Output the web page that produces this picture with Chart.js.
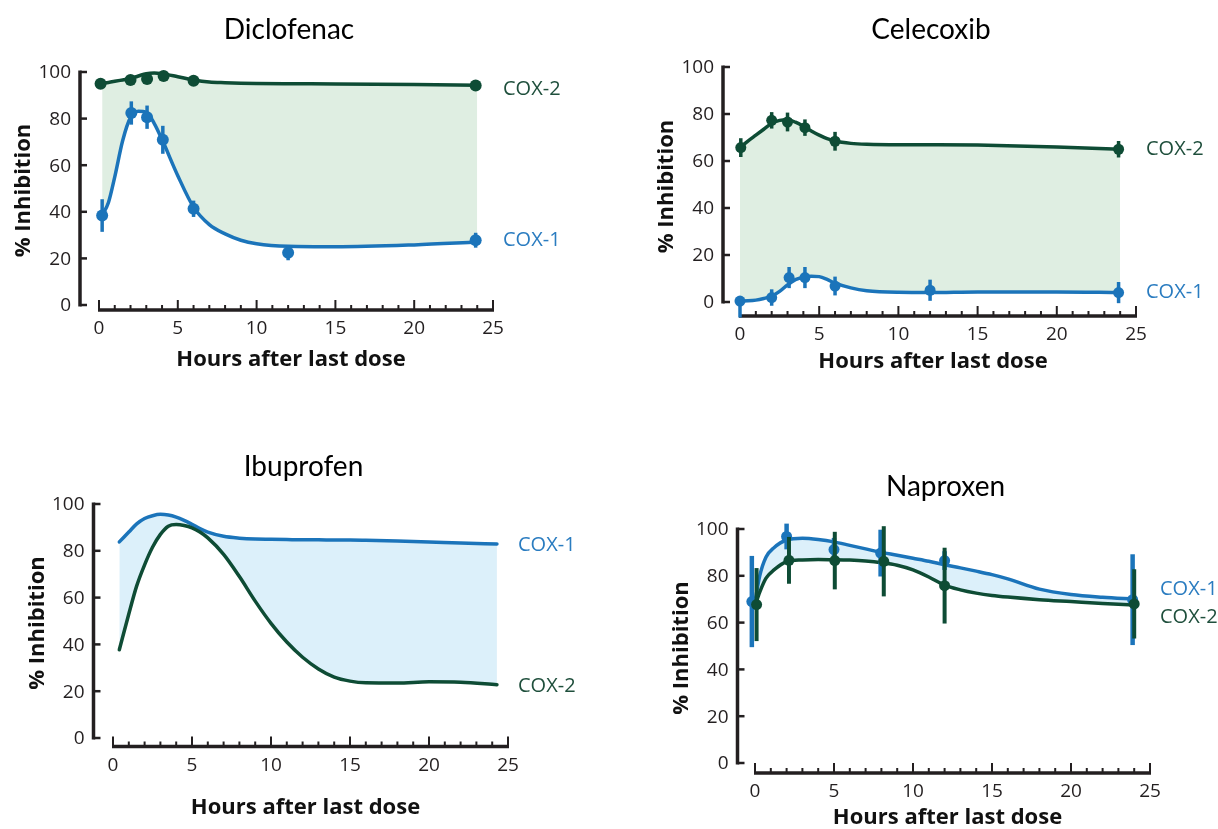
<!DOCTYPE html>
<html>
<head>
<meta charset="utf-8">
<title>COX-1 / COX-2 inhibition</title>
<script src="https://cdn.jsdelivr.net/npm/chart.js@4.4.1/dist/chart.umd.min.js"></script>
<style>
  html, body { margin: 0; padding: 0; background: #ffffff; }
  #wrap { position: relative; width: 1218px; height: 829px; overflow: hidden; }
  canvas { position: absolute; }
</style>
</head>
<body>
<div id="wrap">
  <canvas id="diclofenac" width="609" height="410" style="left:0;top:0"></canvas>
  <canvas id="celecoxib" width="609" height="410" style="left:609px;top:0"></canvas>
  <canvas id="ibuprofen" width="609" height="419" style="left:0;top:410px"></canvas>
  <canvas id="naproxen" width="609" height="419" style="left:609px;top:410px"></canvas>
</div>
<script>
// shared axes
const xTicks = [0, 5, 10, 15, 20, 25];
const yTicks = [0, 20, 40, 60, 80, 100];
const xTitle = 'Hours after last dose';
const yTitle = '% Inhibition';
const seriesNames = ['COX-1', 'COX-2'];

// Diclofenac
const dicloCurveHours = [0.2, 0.6, 1, 1.5, 2, 2.5, 3, 3.5, 4, 5, 6, 7, 8, 9, 10, 12, 15, 20, 24];
const dicloCox1Curve = [38.5, 44, 55, 70.5, 80.5, 83.2, 82.8, 78, 71, 55.5, 42, 34.5, 30.5, 27.8, 26.3, 25.2, 25, 25.8, 27];
const dicloCox2Curve = [95, 95.5, 96, 96.6, 97.2, 98.3, 99.3, 99.6, 99.3, 98, 96.6, 95.7, 95.4, 95.2, 95.1, 95, 94.9, 94.6, 94.3];
const dicloCox1Hours = [0.2, 2.05, 3.05, 4.05, 6, 12, 23.9];
const dicloCox1Mean = [38.4, 82.4, 80.6, 70.9, 41.3, 22.4, 27.8];
const dicloCox1Err = [7, 5, 5, 6, 3.5, 3.2, 3.2];
const dicloCox2Hours = [0.1, 2, 3.05, 4.1, 6, 23.9];
const dicloCox2Mean = [95, 96.6, 97, 98.3, 96.2, 94.2];
const dicloCox2Err = [0, 0, 0, 0, 0, 0];

// Celecoxib
const celeCurveHours = [0, 0.5, 1, 1.5, 2, 2.5, 3, 3.5, 4, 4.5, 5, 5.5, 6, 7, 8, 10, 12, 15, 20, 24];
const celeCox1Curve = [0.4, 0.5, 0.8, 1.5, 2.5, 4.5, 7.3, 9.5, 10.6, 11, 10.8, 9.6, 8, 6, 4.8, 4.1, 4, 4.3, 4.3, 4];
const celeCox2Curve = [65.7, 68.5, 71, 73.5, 76, 77.3, 77.6, 76.5, 74.8, 72.8, 71, 69.5, 68.5, 67.5, 67.1, 66.9, 66.9, 66.8, 66, 65];
const celeCox1Hours = [0, 2, 3.1, 4.1, 6, 12, 23.9];
const celeCox1Mean = [0.4, 1.9, 10.4, 10.4, 6.8, 5, 4];
const celeCox1Err = [[7, 0], 3.5, 4.5, 4.5, 4, 4.5, 4.5];
const celeCox2Hours = [0.05, 2, 3, 4.1, 6, 23.9];
const celeCox2Mean = [65.7, 77.3, 76.6, 74.2, 68.4, 65];
const celeCox2Err = [4, 3.5, 4, 3.5, 4, 3.5];

// Ibuprofen (fitted curves only)
const ibuCurveHours = [0.4, 1, 1.5, 2, 2.5, 3, 3.5, 4, 4.5, 5, 5.5, 6, 7, 8, 9, 10, 11, 12, 13, 14, 15, 16, 18, 20, 22, 24.3];
const ibuCox1Curve = [83.8, 88, 91.5, 93.8, 95, 95.6, 95.3, 94.4, 93, 91.3, 89.5, 88, 86.2, 85.4, 85, 84.9, 84.8, 84.7, 84.7, 84.6, 84.6, 84.5, 84.2, 83.8, 83.3, 82.9];
const ibuCox2Curve = [37.7, 53, 65, 74, 81.5, 87, 90.5, 91.2, 90.8, 89.8, 88, 85.5, 78.5, 69, 58.5, 49, 41, 34.5, 29.5, 26, 24.3, 23.6, 23.5, 24, 23.8, 22.8];

// Naproxen
const naproCurveHours = [0, 0.3, 0.7, 1.2, 2, 3, 4, 5, 6, 7, 8, 9, 10, 11, 12, 13, 14, 15, 16, 18, 20, 22, 24];
const naproCox1Curve = [69, 80, 88, 92, 95.3, 96, 95.5, 94.5, 93, 91.5, 90, 88.8, 87.5, 86.2, 84.7, 83.4, 82, 80.5, 78.7, 74.3, 72, 70.8, 70];
const naproCox2Curve = [67, 73, 79, 82.5, 86, 86.8, 87, 86.9, 86.7, 86.3, 85.6, 84.5, 82.5, 79.5, 76, 74, 72.6, 71.6, 70.9, 69.8, 69, 68.2, 67.5];
const naproCox1Hours = [-0.2, 2, 5, 7.95, 12, 23.9];
const naproCox1Mean = [69, 96.8, 91.2, 89.7, 86.5, 69.8];
const naproCox1Err = [19.5, 5.5, 5, 10, 4, 19.4];
const naproCox2Hours = [0.1, 2.15, 5.05, 8.15, 12, 24];
const naproCox2Mean = [67.7, 86.6, 86.5, 86.2, 75.8, 68];
const naproCox2Err = [15.6, 10, 12.3, 15, 16.2, 14.8];

const INK = '#231f20';
const BLUE = '#1b74ba';
const GREEN = '#0e4c35';
const BLUE_TEXT = '#2a7cc0';
const GREEN_TEXT = '#1f4f3c';
const FILL_GREEN = '#dfeee2';
const FILL_BLUE = '#dcf0fa';

const TEXT_FONT = '"Open Sans", "DejaVu Sans", sans-serif';
const TITLE_FONT = 'Lato, "Open Sans", sans-serif';

const panels = [
  {
    id: 'diclofenac', title: 'Diclofenac', fill: FILL_GREEN,
    pad: { left: 99, right: 116, top: 72, bottom: 105 },
    yGap: 19, xGap: 5, titleY: 30, xTitleDy: 55, nudge: [-2, 4],
    dot: 6, errWidth: [3.5, 3.5],
    curve: [dicloCurveHours, dicloCox1Curve, dicloCox2Curve],
    cox1: [dicloCox1Hours, dicloCox1Mean, dicloCox1Err],
    cox2: [dicloCox2Hours, dicloCox2Mean, dicloCox2Err]
  },
  {
    id: 'celecoxib', title: 'Celecoxib', fill: FILL_GREEN,
    pad: { left: 131, right: 82, top: 67, bottom: 108 },
    yGap: 17, xGap: 14, titleY: 30, xTitleDy: 60, nudge: [0, 0],
    dot: 5.5, errWidth: [3.5, 3.5],
    curve: [celeCurveHours, celeCox1Curve, celeCox2Curve],
    cox1: [celeCox1Hours, celeCox1Mean, celeCox1Err],
    cox2: [celeCox2Hours, celeCox2Mean, celeCox2Err]
  },
  {
    id: 'ibuprofen', title: 'Ibuprofen', fill: FILL_BLUE,
    pad: { left: 113, right: 101, top: 94, bottom: 91 },
    yGap: 19.5, xGap: 8.5, titleY: 57, xTitleDy: 70, nudge: [1, 2],
    curve: [ibuCurveHours, ibuCox1Curve, ibuCox2Curve]
  },
  {
    id: 'naproxen', title: 'Naproxen', fill: FILL_BLUE,
    pad: { left: 146, right: 68, top: 119, bottom: 66 },
    yGap: 17.5, xGap: 10, titleY: 77, xTitleDy: 55, nudge: [-10, 12],
    dot: 5.5, errWidth: [4.5, 4],
    curve: [naproCurveHours, naproCox1Curve, naproCox2Curve],
    cox1: [naproCox1Hours, naproCox1Mean, naproCox1Err],
    cox2: [naproCox2Hours, naproCox2Mean, naproCox2Err]
  }
];

function toPoints(hours, values) {
  return hours.map((h, i) => ({ x: h, y: values[i] }));
}

// vertical error bars under each point dataset
const errorBars = {
  id: 'errorBars',
  beforeDatasetDraw(chart, args) {
    const ds = chart.data.datasets[args.index];
    if (!ds.errors) return;
    const { ctx, scales: { x, y } } = chart;
    ctx.save();
    ctx.strokeStyle = ds.pointBackgroundColor;
    ctx.lineWidth = ds.errorWidth;
    ds.data.forEach((p, i) => {
      const e = ds.errors[i];
      const [down, up] = Array.isArray(e) ? e : [e, e];
      if (!down && !up) return;
      const px = x.getPixelForValue(p.x);
      ctx.beginPath();
      ctx.moveTo(px, y.getPixelForValue(p.y - down));
      ctx.lineTo(px, y.getPixelForValue(p.y + up));
      ctx.stroke();
    });
    ctx.restore();
  }
};

// offset axes with inward ticks, titles and series labels
function makeFrame(panel) {
  return {
    id: 'frame',
    beforeDraw(chart) {
      const { ctx, chartArea: a, scales: { x, y } } = chart;
      const axisX = a.left - panel.yGap;
      const axisY = a.bottom + panel.xGap;
      ctx.save();
      ctx.strokeStyle = INK;
      ctx.fillStyle = INK;

      // y axis
      ctx.lineWidth = 3.5;
      ctx.beginPath();
      ctx.moveTo(axisX, y.getPixelForValue(100) - 1.5);
      ctx.lineTo(axisX, y.getPixelForValue(0) + 1.5);
      ctx.stroke();
      ctx.font = '19px ' + TEXT_FONT;
      ctx.textAlign = 'right';
      ctx.textBaseline = 'middle';
      ctx.lineWidth = 2.5;
      yTicks.forEach(v => {
        const py = y.getPixelForValue(v);
        ctx.beginPath();
        ctx.moveTo(axisX, py);
        ctx.lineTo(axisX + 7, py);
        ctx.stroke();
        ctx.fillText(String(v), axisX - 9, py + 1);
      });

      // x axis with hourly minor ticks
      const x0 = x.getPixelForValue(0);
      const x25 = x.getPixelForValue(25);
      ctx.lineWidth = 3.5;
      ctx.beginPath();
      ctx.moveTo(x0 - 1, axisY);
      ctx.lineTo(x25 + 1, axisY);
      ctx.stroke();
      ctx.lineWidth = 2;
      for (let h = 0; h <= 25; h++) {
        const px = x.getPixelForValue(h);
        const len = h % 5 === 0 ? 10 : 5;
        ctx.beginPath();
        ctx.moveTo(px, axisY);
        ctx.lineTo(px, axisY - len);
        ctx.stroke();
      }
      ctx.textAlign = 'center';
      xTicks.forEach(v => {
        ctx.fillText(String(v), x.getPixelForValue(v), axisY + 19);
      });

      // axis titles
      ctx.fillStyle = '#111111';
      ctx.font = 'bold 22px ' + TEXT_FONT;
      ctx.fillText(xTitle, (a.left + a.right) / 2 - 5, a.bottom + panel.xTitleDy);
      ctx.save();
      ctx.translate(axisX - 56, (a.top + a.bottom) / 2 + 2);
      ctx.rotate(-Math.PI / 2);
      ctx.fillText(yTitle, 0, 0);
      ctx.restore();

      // panel title
      ctx.fillStyle = '#000000';
      ctx.font = '28px ' + TITLE_FONT;
      ctx.fillText(panel.title, (a.left + a.right) / 2 - 7, panel.titleY);

      // series labels at the end of each fitted curve
      const [, c1, c2] = panel.curve;
      ctx.font = '20px ' + TEXT_FONT;
      ctx.textAlign = 'left';
      ctx.fillStyle = BLUE_TEXT;
      ctx.fillText(seriesNames[0], x25 + 10, y.getPixelForValue(c1[c1.length - 1]) + panel.nudge[0]);
      ctx.fillStyle = GREEN_TEXT;
      ctx.fillText(seriesNames[1], x25 + 10, y.getPixelForValue(c2[c2.length - 1]) + panel.nudge[1]);
      ctx.restore();
    }
  };
}

function buildPanel(panel) {
  const [hours, c1, c2] = panel.curve;
  const datasets = [
    {
      data: toPoints(hours, c1), borderColor: BLUE, borderWidth: 3.5, borderCapStyle: 'round',
      pointRadius: 0, cubicInterpolationMode: 'monotone', fill: false, order: 4, clip: false
    },
    {
      data: toPoints(hours, c2), borderColor: GREEN, borderWidth: 3.5, borderCapStyle: 'round',
      pointRadius: 0, cubicInterpolationMode: 'monotone', fill: { target: 0 },
      backgroundColor: panel.fill, order: 3, clip: false
    }
  ];
  if (panel.cox1) {
    datasets.push({
      data: toPoints(panel.cox1[0], panel.cox1[1]), errors: panel.cox1[2], errorWidth: panel.errWidth[0],
      showLine: false, pointRadius: panel.dot, pointBorderWidth: 0,
      pointBackgroundColor: BLUE, borderColor: BLUE, order: 2, clip: false
    });
    datasets.push({
      data: toPoints(panel.cox2[0], panel.cox2[1]), errors: panel.cox2[2], errorWidth: panel.errWidth[1],
      showLine: false, pointRadius: panel.dot, pointBorderWidth: 0,
      pointBackgroundColor: GREEN, borderColor: GREEN, order: 1, clip: false
    });
  }

  new Chart(document.getElementById(panel.id), {
    type: 'line',
    data: { datasets },
    plugins: [errorBars, makeFrame(panel)],
    options: {
      responsive: false,
      animation: false,
      events: [],
      layout: { padding: panel.pad },
      plugins: {
        legend: { display: false },
        title: { display: false },
        tooltip: { enabled: false },
        filler: { drawTime: 'beforeDatasetsDraw' }
      },
      scales: {
        x: { type: 'linear', min: 0, max: 25, display: false },
        y: { type: 'linear', min: 0, max: 100, display: false }
      }
    }
  });
}

Promise.all([
  document.fonts.load('19px "Open Sans"'),
  document.fonts.load('bold 22px "Open Sans"'),
  document.fonts.load('28px Lato')
]).catch(() => {}).then(() => panels.forEach(buildPanel));
</script>
</body>
</html>
